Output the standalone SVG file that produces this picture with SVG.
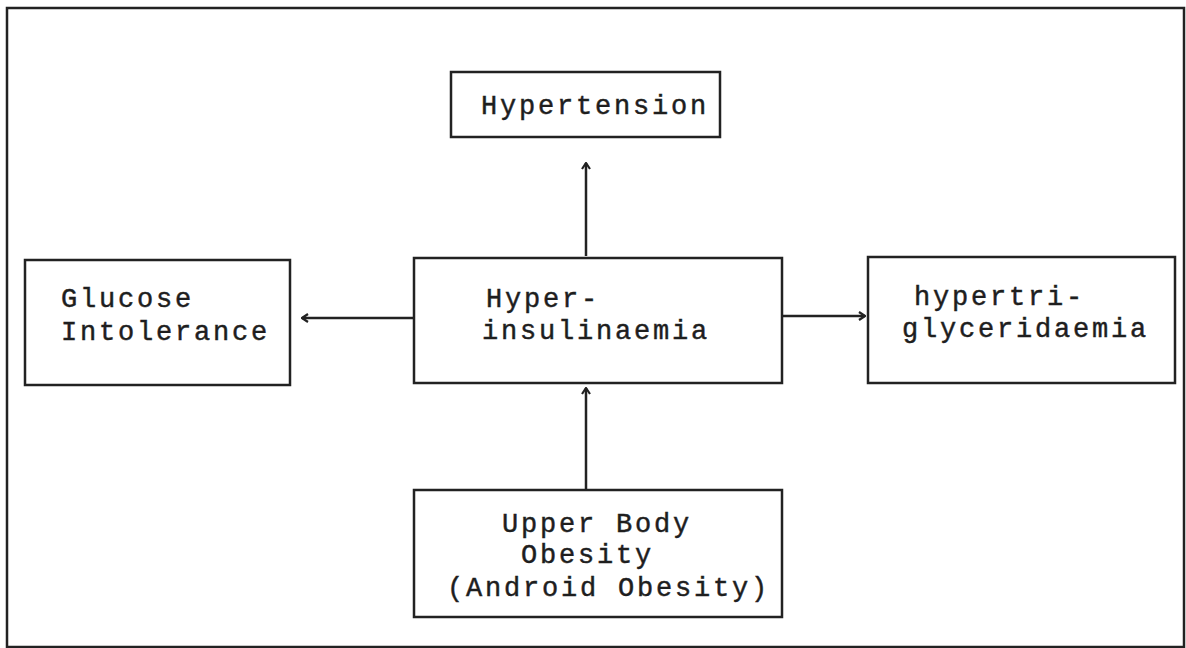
<svg xmlns="http://www.w3.org/2000/svg" width="1186" height="648" viewBox="0 0 1186 648">
<style>
.box{fill:#fff;stroke:#222;stroke-width:2.5}
.t{font-family:"Liberation Mono","Courier New",monospace;font-size:27px;letter-spacing:2.8px;fill:#1e1e1e;stroke:#1e1e1e;stroke-width:0.45}
.c{stroke:#222;stroke-width:2.5;fill:none}
</style>
<defs>
<marker id="ah" viewBox="0 0 10 10" refX="9" refY="5" markerWidth="10" markerHeight="10" markerUnits="userSpaceOnUse" orient="auto">
<polyline points="3,1 9,5 3,9" fill="none" stroke="#222" stroke-width="2.2"/>
</marker>
</defs>
<rect width="1186" height="648" fill="#fff"/>
<rect x="7" y="8" width="1177" height="639" fill="none" stroke="#222" stroke-width="2.5"/>
<g id="connectors">
<line class="c" x1="586" y1="256" x2="586" y2="163" marker-end="url(#ah)"/>
<line class="c" x1="414" y1="318" x2="302" y2="318" marker-end="url(#ah)"/>
<line class="c" x1="782" y1="316" x2="865" y2="316" marker-end="url(#ah)"/>
<line class="c" x1="586" y1="490" x2="586" y2="388" marker-end="url(#ah)"/>
</g>
<g id="hypertension">
<rect class="box" x="451" y="72" width="269" height="65"/>
<text class="t" x="481" y="114">Hypertension</text>
</g>
<g id="glucose">
<rect class="box" x="25" y="260" width="265" height="125"/>
<text class="t" x="61" y="307">Glucose</text>
<text class="t" x="61" y="340">Intolerance</text>
</g>
<g id="hyperinsulinaemia">
<rect class="box" x="414" y="258" width="368" height="125"/>
<text class="t" x="486" y="307">Hyper-</text>
<text class="t" x="482" y="339">insulinaemia</text>
</g>
<g id="hypertriglyceridaemia">
<rect class="box" x="868" y="257" width="307" height="126"/>
<text class="t" x="914" y="305">hypertri-</text>
<text class="t" x="902" y="337">glyceridaemia</text>
</g>
<g id="obesity">
<rect class="box" x="414" y="490" width="368" height="127"/>
<text class="t" x="502" y="532">Upper Body</text>
<text class="t" x="521" y="563">Obesity</text>
<text class="t" x="447" y="596">(Android Obesity)</text>
</g>
</svg>
